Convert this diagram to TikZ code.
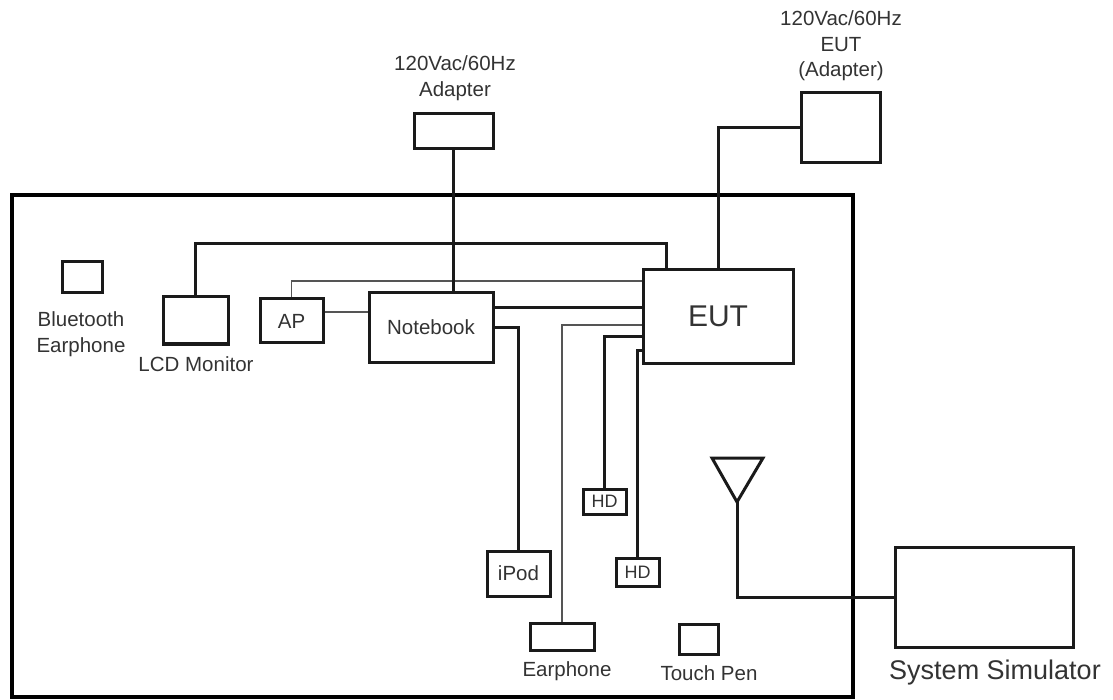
\documentclass[tikz,border=0pt]{standalone}
\usepackage{fontspec}
\setmainfont{Liberation Sans}
\definecolor{txt}{HTML}{333333}
\definecolor{ln}{HTML}{1A1A1A}
\definecolor{thinln}{HTML}{555555}
\begin{document}
\begin{tikzpicture}[x=1pt,y=-1pt,
  box/.style={draw=ln, line width=3pt, inner sep=0pt, text=txt,
    font=\fontsize{20.5}{24}\selectfont},
  lbl/.style={inner sep=0pt, text=txt, align=center,
    font=\fontsize{20.5}{25.5}\selectfont},
  wire/.style={draw=ln, line width=3pt},
  thinwire/.style={draw=thinln, line width=1.5pt},
  frame/.style={draw=black, line width=4.5pt}]
\useasboundingbox (0,0) rectangle (1113,700);
% enclosure
\draw[frame] (12,195) rectangle (853,697);
% boxes
\node[box, minimum width=40, minimum height=31] (bte) at (82,277.5) {};
\node[box, minimum width=65, minimum height=47] (lcd) at (195.5,320.5) {};
\node[box, minimum width=63, minimum height=44] (ap) at (291.5,321) {AP};
\node[box, minimum width=124, minimum height=69] (nb) at (431,327.5) {Notebook};
\node[box, minimum width=79, minimum height=35] (adp) at (453.5,131.5) {};
\node[box, minimum width=79, minimum height=70] (eutadp) at (840.5,128) {};
\node[box, minimum width=150, minimum height=93, font=\fontsize{30}{34}\selectfont] (eut) at (718,316.5) {EUT};
\node[box, minimum width=63, minimum height=45] (ipod) at (518.5,573.5) {iPod};
\node[box, minimum width=64, minimum height=27] (earph) at (562,636.5) {};
\node[box, minimum width=43, minimum height=25, font=\fontsize{18}{20}\selectfont] (hda) at (604.5,501.5) {HD};
\node[box, minimum width=43, minimum height=28, font=\fontsize{18}{20}\selectfont] (hdb) at (637.5,572) {HD};
\node[box, minimum width=39, minimum height=30] (pen) at (698.5,639) {};
\node[box, minimum width=178, minimum height=100] (sim) at (984,597) {};
% labels
\node[lbl] (adplbl) at (455,78) {120Vac/60Hz\\Adapter};
\node[lbl] (eutadplbl) at (841,46) {120Vac/60Hz\\EUT\\(Adapter)};
\node[lbl] (btelbl) at (81,334) {Bluetooth\\Earphone};
\node[lbl] (lcdlbl) at (196,364) {LCD Monitor};
\node[lbl] (earphlbl) at (567,671) {Earphone};
\node[lbl] (penlbl) at (709,673) {Touch Pen};
\node[lbl, font=\fontsize{27}{30}\selectfont] (simlbl) at (995,673) {System Simulator};
% antenna
\coordinate (antl) at (712,458);
\coordinate (antr) at (763,458);
\coordinate (antip) at (737,502);
\draw[wire, line join=miter] (antl) -- (antr) -- (antip) -- cycle;
% helper coordinates
\coordinate (ylcd) at (666,244);
\coordinate (yap) at (0,281);
\coordinate (yapnb) at (0,312);
\coordinate (ynb) at (0,308);
\coordinate (year) at (0,325);
\coordinate (yhda) at (0,337);
\coordinate (yhdb) at (0,350);
% connectors
\draw[wire] (lcd.north) |- (ylcd) -- (ylcd |- eut.north);
\draw[thinwire] (ap.north) |- (eut.west |- yap);
\draw[thinwire] (ap.east |- yapnb) -- (nb.west |- yapnb);
\draw[wire] (adp.south) -- (adp.south |- nb.north);
\draw[wire] (eutadp.west) -| (eut.north);
\draw[wire] (nb.east |- ynb) -- (eut.west |- ynb);
\draw[wire] (nb.east) -| (ipod.north);
\draw[thinwire] (eut.west |- year) -| (earph.north);
\draw[wire] (eut.west |- yhda) -| (hda.north);
\draw[wire] (eut.west |- yhdb) -| (hdb.north);
\draw[wire] (antip) |- (sim.west);
\end{tikzpicture}
\end{document}
